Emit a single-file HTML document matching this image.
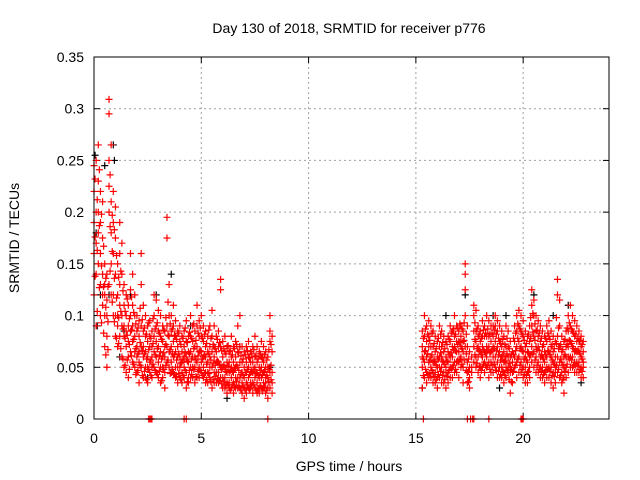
<!DOCTYPE html>
<html><head><meta charset="utf-8"><style>
body{margin:0;background:#fff;}
svg{display:block;font-family:"Liberation Sans",sans-serif;}
</style></head><body>
<svg id="chart" width="640" height="480">
<text x="349" y="33" font-size="14" text-anchor="middle">Day 130 of 2018, SRMTID for receiver p776</text>
<text x="349" y="471" font-size="14" text-anchor="middle">GPS time / hours</text>
<text x="19" y="238" font-size="14" text-anchor="middle" transform="rotate(-90 19 238)">SRMTID / TECUs</text>
<g id="grid"></g><g id="ticks"></g><g id="marks"></g>
<rect x="94" y="57" width="515" height="362" fill="none" stroke="#000" stroke-width="1"/>
</svg>
<script>
const xTicks=[0,5,10,15,20];
const yTicks=[0,0.05,0.1,0.15,0.2,0.25,0.3,0.35];
const yTickLabels=["0","0.05","0.1","0.15","0.2","0.25","0.3","0.35"];
const redRows=[
[0.0,.245,.22,.19,.16,.12],[0.1,.25,.2,.17,.14,.09],[0.2,.265,.23,.2,.18,.15],[0.3,.22,.19,.16,.13,.1],[0.4,.21,.175,.14,.12,.11],
[0.5,.15,.13,.12,.1,.07],[0.6,.14,.115,.1,.08,.05],[0.7,.309,.295,.25,.225,.2,.13],[0.8,.265,.21,.18,.15,.12],[0.9,.22,.19,.16,.12,.1],
[1.0,.205,.175,.14,.1,.08],[1.1,.15,.12,.1,.09,.07],[1.2,.19,.16,.13,.11,.08],[1.3,.17,.14,.1,.09,.06],[1.4,.13,.11,.09,.08,.05],
[1.5,.12,.1,.085,.07,.045],[1.6,.11,.09,.075,.06,.04],[1.7,.16,.125,.1,.085,.065],[1.8,.14,.11,.09,.075,.055],[1.9,.12,.1,.08,.065,.05],
[2.0,.1,.085,.07,.06,.045],[2.1,.095,.08,.065,.055,.035],[2.2,.16,.13,.09,.07,.05],[2.3,.11,.085,.07,.06,.04],[2.4,.1,.08,.065,.05,.04],
[2.5,.09,.075,.06,.05,.035],[2.6,.095,.08,.07,.055,.045],[2.7,.085,.07,.06,.05,.04],[2.8,.12,.1,.08,.065,.05],[2.9,.115,.09,.075,.06,.045],
[3.0,.105,.085,.07,.055,.04],[3.1,.1,.08,.065,.05,.035],[3.2,.09,.075,.06,.05,.04],[3.3,.085,.07,.06,.045,.03],[3.4,.195,.175,.09,.07,.055],
[3.5,.13,.1,.08,.065,.05],[3.6,.1,.085,.07,.055,.045],[3.7,.11,.09,.075,.06,.045],[3.8,.095,.08,.065,.05,.04],[3.9,.085,.07,.06,.05,.035],
[4.0,.09,.075,.06,.05,.04],[4.1,.08,.065,.055,.045,.035],[4.2,.085,.07,.06,.05,.04],[4.3,.095,.075,.06,.045,.03],[4.4,.08,.065,.055,.04,.035],
[4.5,.1,.08,.065,.05,.04],[4.6,.09,.075,.06,.05,.04],[4.7,.085,.07,.06,.05,.035],[4.8,.11,.09,.07,.055,.04],[4.9,.095,.08,.065,.05,.04],
[5.0,.1,.08,.065,.055,.045],[5.1,.09,.075,.06,.05,.04],[5.2,.085,.07,.06,.045,.035],[5.3,.08,.065,.055,.045,.035],[5.4,.09,.07,.06,.05,.04],
[5.5,.105,.08,.065,.05,.03],[5.6,.09,.07,.06,.045,.035],[5.7,.08,.065,.055,.045,.035],[5.8,.085,.07,.055,.045,.035],[5.9,.135,.125,.07,.05,.04],
[6.0,.075,.06,.05,.04,.03],[6.1,.08,.065,.05,.04,.03],[6.2,.07,.055,.045,.035,.025],[6.3,.065,.055,.045,.035,.03],[6.4,.08,.06,.05,.04,.03],
[6.5,.07,.055,.045,.035,.025],[6.6,.075,.06,.05,.04,.03],[6.7,.09,.065,.05,.04,.03],[6.8,.1,.07,.055,.04,.03],[6.9,.07,.055,.045,.035,.025],
[7.0,.065,.05,.04,.03,.02],[7.1,.07,.055,.045,.035,.025],[7.2,.075,.06,.05,.04,.03],[7.3,.065,.055,.045,.035,.03],[7.4,.07,.055,.045,.035,.025],
[7.5,.08,.06,.05,.04,.03],[7.6,.07,.055,.045,.035,.025],[7.7,.065,.05,.04,.03,.025],[7.8,.075,.06,.05,.04,.03],[7.9,.07,.055,.045,.035,.03],
[8.0,.065,.05,.04,.035,.025],[8.1,.06,.05,.04,.03,.02],[8.2,.1,.085,.075,.045,.03],[8.3,.08,.065,.045,.035,.025],
[15.3,.085,.07,.06,.05,.03],[15.4,.1,.08,.065,.055,.04],[15.5,.09,.075,.06,.045,.035],[15.6,.095,.08,.07,.055,.04],[15.7,.09,.07,.06,.05,.04],
[15.8,.085,.07,.055,.045,.035],[15.9,.08,.065,.055,.045,.035],[16.0,.075,.06,.05,.04,.03],[16.1,.09,.07,.06,.05,.04],[16.2,.085,.07,.06,.05,.035],
[16.3,.08,.065,.055,.045,.035],[16.4,.075,.06,.05,.045,.03],[16.5,.08,.065,.055,.045,.035],[16.6,.09,.075,.06,.05,.04],[16.7,.085,.07,.06,.05,.04],
[16.8,.1,.08,.07,.055,.045],[16.9,.09,.075,.065,.055,.045],[17.0,.085,.075,.065,.055,.04],[17.1,.09,.08,.07,.06,.05],[17.2,.085,.075,.065,.05,.035],
[17.3,.15,.14,.125,.1,.07],[17.4,.09,.07,.055,.045,.035],[17.5,.065,.05,.04,.03],[17.6,.06,.05,.045],[17.7,.11,.1,.085,.07,.055],
[17.8,.105,.085,.075,.06,.05],[17.9,.09,.08,.07,.06,.045],[18.0,.085,.075,.065,.05,.04],[18.1,.095,.08,.07,.06,.05],[18.2,.09,.08,.065,.055,.045],
[18.3,.1,.08,.07,.06,.05],[18.4,.095,.08,.07,.055,.04],[18.5,.09,.075,.065,.055,.045],[18.6,.09,.08,.07,.06,.045],[18.7,.1,.09,.075,.06,.05],
[18.8,.095,.085,.07,.055,.04],[18.9,.09,.075,.065,.05,.04],[19.0,.085,.07,.06,.05,.04],[19.1,.08,.065,.055,.045,.035],[19.2,.09,.07,.06,.05,.04],
[19.3,.085,.07,.06,.05,.045],[19.4,.075,.06,.05,.045,.025],[19.5,.065,.055,.045,.035],[19.6,.09,.075,.06,.05],[19.7,.1,.085,.07,.055,.04],
[19.8,.105,.09,.075,.06,.045],[19.9,.1,.085,.07,.055,.045],[20.0,.095,.08,.065,.05,.04],[20.1,.085,.07,.06,.05,.035],[20.2,.08,.065,.055,.045,.035],
[20.3,.09,.075,.06,.05,.04],[20.4,.125,.11,.09,.07,.055],[20.5,.115,.1,.08,.065,.05],[20.6,.1,.085,.07,.06,.045],[20.7,.095,.08,.07,.055,.045],
[20.8,.09,.075,.06,.05,.04],[20.9,.085,.07,.06,.05,.04],[21.0,.08,.065,.055,.045,.035],[21.1,.09,.075,.06,.05,.04],[21.2,.095,.08,.065,.05,.04],
[21.3,.085,.07,.06,.05,.035],[21.4,.08,.065,.055,.045,.03],[21.5,.075,.06,.05,.045,.035],[21.6,.135,.12,.08,.06,.045],[21.7,.115,.09,.07,.055,.04],
[21.8,.08,.065,.055,.045,.035],[21.9,.075,.06,.05,.04,.025],[22.0,.085,.07,.06,.05,.04],[22.1,.1,.085,.07,.06,.045],[22.2,.11,.09,.075,.06,.05],
[22.3,.1,.085,.07,.06,.05],[22.4,.095,.08,.065,.055,.045],[22.5,.09,.075,.065,.055,.045],[22.6,.085,.075,.065,.055,.045],[22.7,.08,.07,.06,.05,.04],
[22.8,.075,.065,.055,.05,.04]];
const redRowsHalf=[
[0.05,.232,.176,.138],[0.15,.212,.163,.104],[0.25,.241,.187,.127],[0.35,.198,.148,.093],[0.45,.167,.128,.083],
[0.55,.136,.108,.062],[0.65,.128,.094,.067],[0.75,.236,.186,.143],[0.85,.197,.162,.113],[0.95,.183,.136,.094],
[1.05,.158,.117,.078],[1.15,.137,.098,.073],[1.25,.143,.104,.068],[1.35,.124,.087,.058],[1.45,.104,.078,.052],
[1.55,.116,.081,.057],[1.65,.097,.072,.048],[1.75,.118,.086,.061],[1.85,.103,.077,.053],[1.95,.092,.068,.043],
[2.05,.088,.063,.047],[2.15,.107,.074,.052],[2.25,.096,.066,.042],[2.35,.088,.063,.046],[2.45,.082,.058,.038],
[2.55,.093,.067,.048],[2.65,.078,.057,.042],[2.75,.097,.073,.053],[2.85,.087,.062,.047],[2.95,.093,.068,.043],
[3.05,.083,.061,.046],[3.15,.077,.058,.037],[3.25,.086,.064,.048],[3.35,.098,.072,.052],[3.45,.113,.081,.057],
[3.55,.092,.067,.044],[3.65,.087,.063,.048],[3.75,.081,.062,.043],[3.85,.077,.057,.041],[3.95,.083,.063,.044],
[4.05,.072,.054,.038],[4.15,.078,.058,.042],[4.25,.088,.064,.047],[4.35,.074,.056,.036],[4.45,.084,.063,.047],
[4.55,.078,.058,.043],[4.65,.092,.068,.048],[4.75,.076,.057,.041],[4.85,.083,.061,.046],[4.95,.088,.066,.047],
[5.05,.078,.058,.042],[5.15,.082,.062,.044],[5.25,.073,.053,.038],[5.35,.086,.063,.044],[5.45,.078,.057,.036],
[5.55,.072,.054,.038],[5.65,.068,.052,.041],[5.75,.077,.056,.039],[5.85,.074,.053,.037],[5.95,.066,.048,.034],
[6.05,.068,.052,.036],[6.15,.063,.046,.032],[6.25,.071,.051,.033],[6.35,.066,.047,.028],[6.45,.062,.046,.033],
[6.55,.068,.049,.031],[6.65,.072,.052,.036],[6.75,.064,.047,.032],[6.85,.061,.043,.028],[6.95,.058,.042,.031],
[7.05,.062,.045,.028],[7.15,.066,.048,.033],[7.25,.059,.043,.029],[7.35,.063,.046,.032],[7.45,.067,.048,.033],
[7.55,.061,.044,.028],[7.65,.058,.042,.029],[7.75,.063,.047,.032],[7.85,.059,.043,.027],[7.95,.062,.046,.031],
[8.05,.057,.042,.028],[8.15,.067,.048,.036],[8.25,.072,.052,.038],
[15.35,.078,.058,.042],[15.45,.087,.066,.048],[15.55,.082,.063,.043],[15.65,.076,.057,.044],[15.75,.083,.062,.047],
[15.85,.073,.056,.041],[15.95,.068,.052,.038],[16.05,.078,.058,.043],[16.15,.082,.064,.046],[16.25,.074,.056,.042],
[16.35,.068,.053,.038],[16.45,.072,.056,.041],[16.55,.077,.062,.047],[16.65,.083,.064,.048],[16.75,.087,.067,.052],
[16.85,.082,.066,.048],[16.95,.088,.072,.056],[17.05,.092,.074,.058],[17.15,.087,.068,.053],[17.25,.093,.076,.057],
[17.35,.082,.063,.047],[17.45,.058,.046,.036],[17.75,.093,.077,.062],[17.85,.087,.068,.054],[17.95,.082,.066,.051],
[18.05,.078,.062,.047],[18.15,.086,.067,.053],[18.25,.083,.064,.052],[18.35,.087,.066,.052],[18.45,.082,.064,.048],
[18.55,.083,.067,.052],[18.65,.086,.068,.053],[18.75,.082,.066,.047],[18.85,.078,.062,.046],[18.95,.073,.057,.043],
[19.05,.077,.061,.046],[19.15,.072,.056,.042],[19.25,.078,.063,.047],[19.35,.068,.054,.038],[19.45,.062,.048,.036],
[19.55,.078,.062,.046],[19.65,.083,.066,.052],[19.75,.092,.078,.058],[19.85,.087,.068,.052],[19.95,.082,.066,.048],
[20.05,.076,.058,.043],[20.15,.073,.057,.042],[20.25,.082,.064,.046],[20.35,.098,.078,.062],[20.45,.102,.084,.063],
[20.55,.092,.076,.057],[20.65,.086,.067,.052],[20.75,.083,.066,.048],[20.85,.078,.062,.046],[20.95,.072,.058,.043],
[21.05,.078,.062,.047],[21.15,.083,.066,.048],[21.25,.077,.062,.046],[21.35,.072,.057,.042],[21.45,.068,.053,.041],
[21.55,.098,.073,.052],[21.65,.088,.068,.048],[21.75,.072,.058,.042],[21.85,.067,.052,.038],[21.95,.077,.062,.046],
[22.05,.088,.072,.053],[22.15,.093,.076,.058],[22.25,.087,.073,.057],[22.35,.083,.068,.052],[22.45,.082,.066,.052],
[22.55,.078,.066,.051],[22.65,.076,.063,.048],[22.75,.072,.058,.046]];
const zeroTimes=[2.55,2.6,2.65,2.7,4.2,4.3,8.1,15.35,17.4,17.55,17.65,17.7,18.4,19.9,19.95,20.0];
const blackT=[0.05,0.1,0.3,0.5,0.9,0.95,0.7,1.4,1.7,3.6,1.2,2.5,5.8,4.5,6.8,8.2,15.3,16.4,17.3,18.6,19.2,20.5,21.4,22.1,22.7,18.9,0.15,2.9,6.2];
const blackV=[.255,.18,.12,.245,.265,.25,.12,.085,.12,.14,.06,.04,.045,.09,.07,.05,.03,.1,.12,.1,.1,.12,.1,.11,.035,.03,.09,.12,.02];

const NS="http://www.w3.org/2000/svg";
const X0=94,X1=609,Y0=419,Y1=57,XMAX=24,YMAX=0.35;
function xs(t){return X0+(X1-X0)*t/XMAX;}
function ys(v){return Y0-(Y0-Y1)*v/YMAX;}
function mk(tag,at,parent){const e=document.createElementNS(NS,tag);for(const k in at)e.setAttribute(k,at[k]);parent.appendChild(e);return e;}
const grid=document.getElementById('grid'),ticks=document.getElementById('ticks'),marks=document.getElementById('marks');
xTicks.forEach(t=>{
  const x=xs(t);
  if(t>0){const g=mk('line',{x1:x,y1:Y0,x2:x,y2:Y1,stroke:'#a0a0a0','stroke-dasharray':'2,3','stroke-width':1},grid);
  
  }
  mk('line',{x1:x,y1:Y0,x2:x,y2:Y0-6,stroke:'#000'},ticks);
  mk('line',{x1:x,y1:Y1,x2:x,y2:Y1+6,stroke:'#000'},ticks);
  const l=mk('text',{x:x,y:Y0+24,'font-size':14,'text-anchor':'middle'},ticks);l.textContent=String(t);
  
  
});
yTicks.forEach((v,i)=>{
  const y=ys(v);
  if(v>0&&v<YMAX){const g=mk('line',{x1:X0,y1:y,x2:X1,y2:y,stroke:'#a0a0a0','stroke-dasharray':'2,3','stroke-width':1},grid);
  
  }
  mk('line',{x1:X0,y1:y,x2:X0+6,y2:y,stroke:'#000'},ticks);
  mk('line',{x1:X1,y1:y,x2:X1-6,y2:y,stroke:'#000'},ticks);
  const l=mk('text',{x:X0-10,y:y+5,'font-size':14,'text-anchor':'end'},ticks);l.textContent=yTickLabels[i];
  
  
});
function plus(t,v,col,name){
  const x=xs(t),y=ys(v);
  const p=mk('path',{d:`M${x-3.5},${y}H${x+3.5}M${x},${y-3.5}V${y+3.5}`,stroke:col,'stroke-width':1.2,fill:'none'},marks);
  
  
}
blackT.forEach((t,i)=>plus(t,blackV[i],'#000','black-point'));
redRows.forEach(r=>{for(let j=1;j<r.length;j++)plus(r[0],r[j],'#f00','red-point');});
redRowsHalf.forEach(r=>{for(let j=1;j<r.length;j++)plus(r[0],r[j],'#f00','red-point');});
zeroTimes.forEach(t=>plus(t,0,'#f00','zero-point'));
</script>
</body></html>
